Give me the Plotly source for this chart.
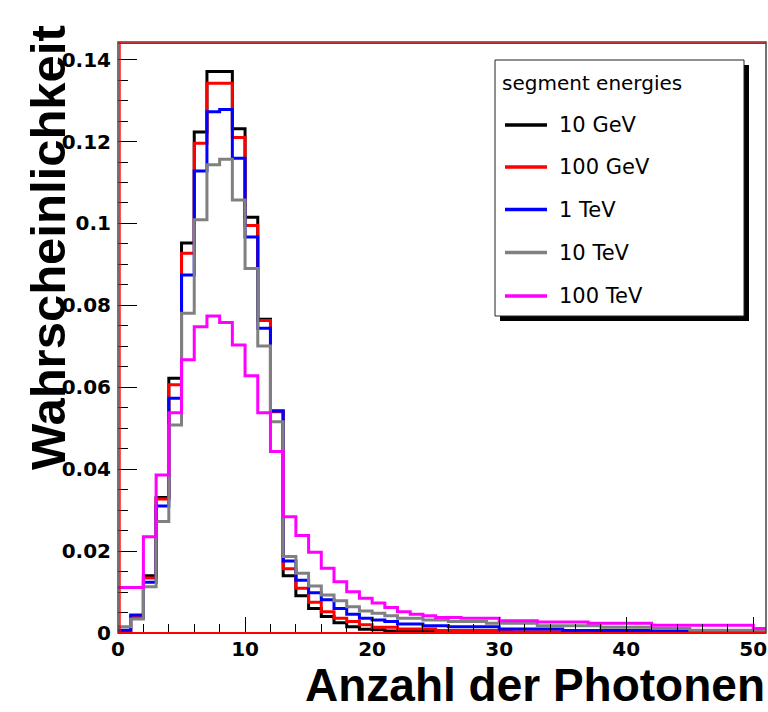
import plotly.graph_objects as go

# ---------------- data ----------------
bin_edges = list(range(0, 52))  # 51 bins of width 1 (0..51)

series_names = ["10 GeV", "100 GeV", "1 TeV", "10 TeV", "100 TeV"]
series_colors = ["#000000", "#ff0000", "#0000ff", "#808080", "#ff00ff"]

gev10 = [0.0005, 0.0038, 0.0140, 0.0331, 0.0622, 0.0952, 0.1223, 0.1371, 0.1371, 0.1231,
         0.1015, 0.0766, 0.0542, 0.0140, 0.0091, 0.0060, 0.0040, 0.0025, 0.0015, 0.0009,
         0.0008, 0.0005, 0.0005, 0.0004, 0.0004, 0.0002, 0.0002, 0.0002, 0.0002, 0.0002,
         0.0002, 0.0001, 0.0001, 0.0001, 0.0001, 0.0001, 0.0001, 0.0001, 0.0001, 0.0001,
         0.0001, 0.0001, 0.0001, 0.0001, 0.0001, 0.0001, 0.0001, 0.0001, 0.0001, 0.0001,
         0.0001]
gev100 = [0.0006, 0.0040, 0.0134, 0.0327, 0.0606, 0.0927, 0.1196, 0.1342, 0.1342, 0.1210,
          0.0995, 0.0763, 0.0540, 0.0157, 0.0109, 0.0075, 0.0052, 0.0036, 0.0028, 0.0020,
          0.0014, 0.0014, 0.0010, 0.0010, 0.0010, 0.0006, 0.0006, 0.0006, 0.0006, 0.0006,
          0.0006, 0.0003, 0.0003, 0.0003, 0.0003, 0.0002, 0.0002, 0.0002, 0.0002, 0.0002,
          0.0002, 0.0002, 0.0002, 0.0002, 0.0002, 0.0002, 0.0002, 0.0002, 0.0002, 0.0002,
          0.0002]
tev1 = [0.0007, 0.0044, 0.0124, 0.0310, 0.0573, 0.0874, 0.1128, 0.1273, 0.1278, 0.1159,
        0.0967, 0.0744, 0.0542, 0.0176, 0.0129, 0.0098, 0.0081, 0.0060, 0.0046, 0.0036,
        0.0032, 0.0028, 0.0022, 0.0022, 0.0018, 0.0018, 0.0015, 0.0015, 0.0015, 0.0015,
        0.0010, 0.0010, 0.0010, 0.0010, 0.0010, 0.0006, 0.0006, 0.0006, 0.0006, 0.0006,
        0.0006, 0.0006, 0.0006, 0.0006, 0.0006, 0.0003, 0.0003, 0.0003, 0.0003, 0.0003,
        0.0003]
tev10 = [0.0015, 0.0034, 0.0113, 0.0272, 0.0508, 0.0781, 0.1009, 0.1143, 0.1157, 0.1057,
         0.0890, 0.0701, 0.0516, 0.0187, 0.0146, 0.0115, 0.0093, 0.0079, 0.0064, 0.0054,
         0.0048, 0.0042, 0.0036, 0.0036, 0.0032, 0.0032, 0.0028, 0.0028, 0.0028, 0.0024,
         0.0024, 0.0024, 0.0024, 0.0018, 0.0018, 0.0018, 0.0018, 0.0018, 0.0014, 0.0014,
         0.0014, 0.0014, 0.0011, 0.0011, 0.0011, 0.0007, 0.0007, 0.0007, 0.0007, 0.0007,
         0.0007]
tev100 = [0.0111, 0.0111, 0.0235, 0.0386, 0.0538, 0.0667, 0.0748, 0.0774, 0.0758, 0.0703,
          0.0628, 0.0538, 0.0443, 0.0284, 0.0238, 0.0197, 0.0158, 0.0125, 0.0101, 0.0085,
          0.0073, 0.0062, 0.0052, 0.0046, 0.0042, 0.0038, 0.0038, 0.0036, 0.0036, 0.0036,
          0.0030, 0.0030, 0.0030, 0.0027, 0.0027, 0.0027, 0.0027, 0.0024, 0.0024, 0.0024,
          0.0024, 0.0024, 0.0019, 0.0019, 0.0019, 0.0019, 0.0019, 0.0019, 0.0019, 0.0019,
          0.0011]
series_values = [gev10, gev100, tev1, tev10, tev100]

x_tickvals = [0, 10, 20, 30, 40, 50]
x_ticktext = ["0", "10", "20", "30", "40", "50"]
y_tickvals = [0, 0.02, 0.04, 0.06, 0.08, 0.10, 0.12, 0.14]
y_ticktext = ["0", "0.02", "0.04", "0.06", "0.08", "0.1", "0.12", "0.14"]

legend_title = "segment energies"
x_title = "Anzahl der Photonen"
y_title = "Wahrscheinlichkeit"

# ---------------- layout constants ----------------
W, H = 768, 712
L, R, T, B = 118, 766, 42, 633   # plot area in pixels
FONT = "Liberation Sans, Arial, Helvetica, sans-serif"
WIDE = "DejaVu Sans, Verdana, sans-serif"


def px(x):
    return (x - L) / (R - L)


def py(y):
    return (B - y) / (B - T)


fig = go.Figure()
for name, color, vals in zip(series_names, series_colors, series_values):
    fig.add_trace(go.Scatter(
        x=bin_edges,
        y=vals + [vals[-1]],
        mode="lines",
        line=dict(shape="hv", color=color, width=3),
        name=name,
        showlegend=False,
        hoverinfo="skip",
    ))

shapes = []
# frame
shapes.append(dict(type="rect", xref="paper", yref="paper", x0=0, x1=1, y0=0, y1=1,
                   line=dict(color="#444444", width=1.5), layer="above"))
shapes.append(dict(type="line", xref="paper", yref="paper", x0=0.003, x1=0.003, y0=0, y1=1,
                   line=dict(color="#ff0000", width=1.5), layer="above"))
shapes.append(dict(type="line", xref="paper", yref="paper", x0=0, x1=1, y0=0.998, y1=0.998,
                   line=dict(color="#ff0000", width=1.5), layer="above"))
shapes.append(dict(type="line", xref="paper", yref="paper", x0=0, x1=1, y0=0.0, y1=0.0,
                   line=dict(color="#ff0000", width=2), layer="above"))

# legend box with shadow
LX0, LX1, LY0, LY1 = 495, 744, 60, 316
SH = 5
shapes.append(dict(type="rect", xref="paper", yref="paper",
                   x0=px(LX0 + SH), x1=px(LX1 + SH), y0=py(LY1 + SH), y1=py(LY0 + SH),
                   fillcolor="#000000", line=dict(width=0), layer="above"))
shapes.append(dict(type="rect", xref="paper", yref="paper",
                   x0=px(LX0), x1=px(LX1), y0=py(LY1), y1=py(LY0),
                   fillcolor="#ffffff", line=dict(color="#222222", width=1), layer="above"))

annotations = []
annotations.append(dict(text=legend_title, xref="paper", yref="paper",
                        x=px(500), y=py(83), xanchor="left", yanchor="middle",
                        showarrow=False, font=dict(family=WIDE, size=20, color="#000000")))
entry_y = [125, 167, 209.5, 252.5, 296]
for name, color, ey in zip(series_names, series_colors, entry_y):
    shapes.append(dict(type="line", xref="paper", yref="paper",
                       x0=px(505), x1=px(547), y0=py(ey), y1=py(ey),
                       line=dict(color=color, width=3.5), layer="above"))
    annotations.append(dict(text=name, xref="paper", yref="paper",
                            x=px(557), y=py(ey), xanchor="left", yanchor="middle",
                            showarrow=False,
                            font=dict(family=WIDE, size=21, color="#000000")))

# axis titles
annotations.append(dict(text=x_title, xref="paper", yref="paper",
                        x=px(766), y=py(712), xanchor="right", yanchor="bottom",
                        showarrow=False, borderpad=0,
                        font=dict(family=FONT, size=46, color="#000000", weight="bold")))
annotations.append(dict(text=y_title, xref="paper", yref="paper",
                        x=px(48), y=py(248), xanchor="center", yanchor="middle",
                        textangle=-90, showarrow=False,
                        font=dict(family=FONT, size=49, color="#000000", weight="bold")))

fig.update_layout(
    width=W, height=H,
    margin=dict(l=L, r=W - R, t=T, b=H - B, pad=0),
    paper_bgcolor="#ffffff", plot_bgcolor="#ffffff",
    shapes=shapes, annotations=annotations,
    showlegend=False,
    xaxis=dict(
        range=[0, 51.0], showgrid=False, zeroline=False, showline=False,
        tickmode="array", tickvals=x_tickvals, ticktext=x_ticktext,
        ticks="inside", ticklen=16, tickwidth=1, tickcolor="#000000",
        minor=dict(dtick=2, tick0=0, ticks="inside", ticklen=9, tickwidth=1,
                   tickcolor="#000000", showgrid=False),
        tickfont=dict(family=WIDE, size=20, color="#000000", weight="bold"),
        ticklabelstandoff=2,
    ),
    yaxis=dict(
        range=[0, 0.1443], showgrid=False, zeroline=False, showline=False,
        tickmode="array", tickvals=y_tickvals, ticktext=y_ticktext,
        ticks="inside", ticklen=19, tickwidth=1, tickcolor="#000000",
        minor=dict(dtick=0.005, tick0=0, ticks="inside", ticklen=10, tickwidth=1,
                   tickcolor="#000000", showgrid=False),
        tickfont=dict(family=WIDE, size=20, color="#000000", weight="bold"),
        ticklabelstandoff=6,
    ),
)

fig.write_html("out.html")
